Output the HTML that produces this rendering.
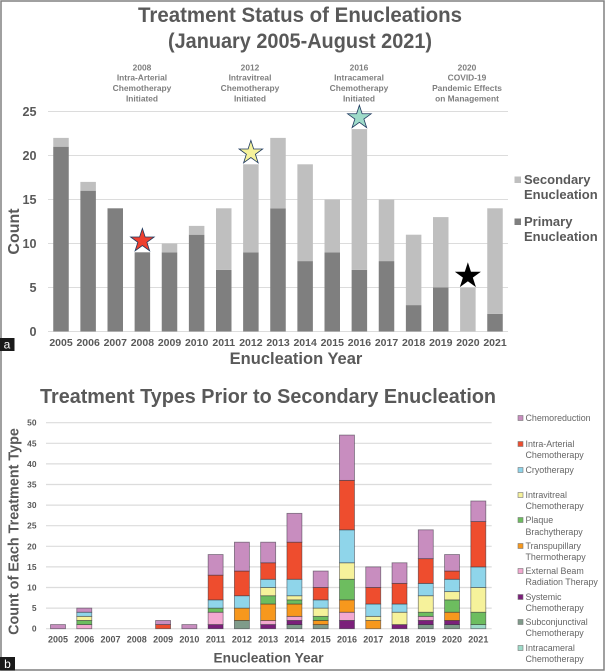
<!DOCTYPE html>
<html lang="en">
<head>
<meta charset="utf-8">
<title>Treatment Status of Enucleations</title>
<style>
html,body{margin:0;padding:0;background:#fff}
svg{display:block}
text{font-family:"Liberation Sans",sans-serif}
</style>
</head>
<body>
<svg id="fig" xmlns="http://www.w3.org/2000/svg" width="605" height="671" viewBox="0 0 605 671">
<rect x="1" y="1" width="603" height="669" fill="#fff" stroke="#808080" stroke-width="1.5"/>

<text x="300" y="22" text-anchor="middle" font-size="21.5" font-weight="700" fill="#595959" textLength="324" lengthAdjust="spacingAndGlyphs">Treatment Status of Enucleations</text>
<text x="300" y="48" text-anchor="middle" font-size="21.5" font-weight="700" fill="#595959" textLength="264" lengthAdjust="spacingAndGlyphs">(January 2005-August 2021)</text>

<g font-size="8.4" font-weight="700" fill="#7f7f7f" text-anchor="middle">
<text x="142" y="70.7">2008</text><text x="142" y="80.7">Intra-Arterial</text><text x="142" y="91">Chemotherapy</text><text x="142" y="101.3">Initiated</text>
</g>
<g font-size="8.4" font-weight="700" fill="#7f7f7f" text-anchor="middle">
<text x="250" y="70.7">2012</text><text x="250" y="80.7">Intravitreal</text><text x="250" y="91">Chemotherapy</text><text x="250" y="101.3">Initiated</text>
</g>
<g font-size="8.4" font-weight="700" fill="#7f7f7f" text-anchor="middle">
<text x="359" y="70.7">2016</text><text x="359" y="80.7">Intracameral</text><text x="359" y="91">Chemotherapy</text><text x="359" y="101.3">Initiated</text>
</g>
<g font-size="8.4" font-weight="700" fill="#7f7f7f" text-anchor="middle">
<text x="467" y="70.7">2020</text><text x="467" y="80.7">COVID-19</text><text x="467" y="91">Pandemic Effects</text><text x="467" y="101.3">on Management</text>
</g>

<g id="chart-a"></g>

<text transform="translate(19,231.5) rotate(-90)" text-anchor="middle" font-size="16" font-weight="700" fill="#595959">Count</text>
<text x="296" y="364" text-anchor="middle" font-size="16.5" font-weight="700" fill="#595959">Enucleation Year</text>

<g font-size="13" font-weight="700" fill="#595959">
<g>
<rect x="514.5" y="176.5" width="6.5" height="6.5" fill="#bfbfbf"/>
<text x="524" y="184">Secondary</text><text x="524" y="199">Enucleation</text>
</g>
<g>
<rect x="514.5" y="218.5" width="6.5" height="6.5" fill="#7f7f7f"/>
<text x="524" y="226">Primary</text><text x="524" y="241">Enucleation</text>
</g>
</g>

<g>
<rect x="0" y="338" width="14.5" height="13" fill="#1a1a1a"/>
<text x="7" y="348.5" text-anchor="middle" font-size="12" fill="#fff">a</text>
</g>

<text x="268" y="403" text-anchor="middle" font-size="20" font-weight="700" fill="#595959" textLength="456" lengthAdjust="spacingAndGlyphs">Treatment Types Prior to Secondary Enucleation</text>

<g id="chart-b"></g>

<text transform="translate(18.5,531.5) rotate(-90)" text-anchor="middle" font-size="14.4" font-weight="700" fill="#595959">Count of Each Treatment Type</text>
<text x="268.5" y="662.5" text-anchor="middle" font-size="13.7" font-weight="700" fill="#595959">Enucleation Year</text>

<g font-size="8.9" fill="#666">
<g><rect x="518" y="415.5" width="5" height="5" fill="#c88dbf" stroke="#777" stroke-width=".6"/><text x="525.5" y="421">Chemoreduction</text></g>
<g><rect x="518" y="441.5" width="5" height="5" fill="#ee4d2e" stroke="#777" stroke-width=".6"/><text x="525.5" y="447">Intra-Arterial</text><text x="525.5" y="458">Chemotherapy</text></g>
<g><rect x="518" y="467.5" width="5" height="5" fill="#8fd5ea" stroke="#777" stroke-width=".6"/><text x="525.5" y="473">Cryotherapy</text></g>
<g><rect x="518" y="492.5" width="5" height="5" fill="#f6f29b" stroke="#777" stroke-width=".6"/><text x="525.5" y="498">Intravitreal</text><text x="525.5" y="509">Chemotherapy</text></g>
<g><rect x="518" y="517.5" width="5" height="5" fill="#6dbd5f" stroke="#777" stroke-width=".6"/><text x="525.5" y="523">Plaque</text><text x="525.5" y="535">Brachytherapy</text></g>
<g><rect x="518" y="543.5" width="5" height="5" fill="#f7981d" stroke="#777" stroke-width=".6"/><text x="525.5" y="549">Transpupillary</text><text x="525.5" y="560">Thermotherapy</text></g>
<g><rect x="518" y="568.5" width="5" height="5" fill="#f3a8d0" stroke="#777" stroke-width=".6"/><text x="525.5" y="574">External Beam</text><text x="525.5" y="585">Radiation Therapy</text></g>
<g><rect x="518" y="594.5" width="5" height="5" fill="#7b1f7a" stroke="#777" stroke-width=".6"/><text x="525.5" y="600">Systemic</text><text x="525.5" y="611">Chemotherapy</text></g>
<g><rect x="518" y="619.5" width="5" height="5" fill="#7f9b8a" stroke="#777" stroke-width=".6"/><text x="525.5" y="625">Subconjunctival</text><text x="525.5" y="636">Chemotherapy</text></g>
<g><rect x="518" y="645.5" width="5" height="5" fill="#9edbc9" stroke="#777" stroke-width=".6"/><text x="525.5" y="651">Intracameral</text><text x="525.5" y="662">Chemotherapy</text></g>
</g>

<g>
<rect x="0" y="657" width="15" height="13.5" fill="#1a1a1a"/>
<text x="7.5" y="668" text-anchor="middle" font-size="12" fill="#fff">b</text>
</g>
</svg>

<script>
// Shared categories
const years = ['2005','2006','2007','2008','2009','2010','2011','2012','2013','2014','2015','2016','2017','2018','2019','2020','2021'];

// Chart A data
const primaryCounts   = [21,16,14,9,9,11,7,9,14,8,9,7,8,3,5,0,2];
const secondaryCounts = [1,1,0,0,1,1,7,10,8,11,6,16,7,8,8,5,12];
const ticksA = [0,5,10,15,20,25];
const starYears = ['2008','2012','2016','2020'];
const starNames = ['star-2008-red','star-2012-yellow','star-2016-green','star-2020-black'];

// Chart B data (bottom of stack to top)
const intracameral    = [0,0,0,0,0,0,0,0,0,0,0,0,0,0,0,0,1];
const subconjunctival = [0,0,0,0,0,0,0,2,0,1,1,0,0,0,1,1,0];
const systemic        = [0,0,0,0,0,0,1,0,1,1,0,2,0,1,1,1,0];
const externalBeam    = [0,1,0,0,0,0,3,0,1,1,0,2,0,0,1,0,0];
const transpupillary  = [0,0,0,0,0,0,0,3,4,3,1,3,2,0,0,2,0];
const plaque          = [0,1,0,0,0,0,1,0,2,1,1,5,0,0,1,3,3];
const intravitreal    = [0,1,0,0,0,0,0,0,2,1,2,4,1,3,4,2,6];
const cryotherapy     = [0,1,0,0,0,0,2,3,2,4,2,8,3,2,3,3,5];
const intraArterial   = [0,0,0,0,1,0,6,6,4,9,3,12,4,5,6,2,11];
const chemoreduction  = [1,1,0,0,1,1,5,7,5,7,4,11,5,5,7,4,5];
const ticksB = [0,5,10,15,20,25,30,35,40,45,50];

const SVGNS = 'http://www.w3.org/2000/svg';
function mk(parent, tag, attrs, txt) {
  const el = document.createElementNS(SVGNS, tag);
  for (const k in attrs) el.setAttribute(k, attrs[k]);
  if (txt !== undefined) el.textContent = txt;
  parent.appendChild(el);
  return el;
}

// Axis functions
const xA = i => 61 + i * 27.125;
const yA = v => 331.5 - v * 8.8;
const xB = i => 58 + i * 26.27;
const yB = v => 628.7 - v * 4.12;

// ---- Chart A ----
const gA = document.getElementById('chart-a');
ticksA.forEach(t => {
  const line = mk(gA, 'line', {x1:48, x2:508, y1:yA(t), y2:yA(t), stroke:'#dcdcdc', 'stroke-width':1});
  
  
  const lab = mk(gA, 'text', {x:36.5, y:yA(t)+4.5, 'text-anchor':'end', 'font-size':12.6, 'font-weight':700, fill:'#595959'}, String(t));
  
  
});
const BAR_A = 15.5;
years.forEach((y, i) => {
  const p = primaryCounts[i], s = secondaryCounts[i];
  if (p > 0) {
    const r = mk(gA, 'rect', {x:xA(i)-BAR_A/2, y:yA(p), width:BAR_A, height:yA(0)-yA(p), fill:'#7f7f7f'});
    
    
  }
  if (s > 0) {
    const r = mk(gA, 'rect', {x:xA(i)-BAR_A/2, y:yA(p+s), width:BAR_A, height:yA(p)-yA(p+s), fill:'#bfbfbf'});
    
    
  }
  const lab = mk(gA, 'text', {x:xA(i), y:346, 'text-anchor':'middle', 'font-size':10.5, 'font-weight':700, fill:'#595959'}, y);
  
  
});

// Stars sit just above the total of their year
const starFills = ['#ee4030','#f6f29b','#9edbc9','#000000'];
const starStrokes = ['#1f3a5f','#1f3a5f','#1f3a5f','#000000'];
function starPoints(cx, cy, R) {
  const pts = [];
  for (let k = 0; k < 10; k++) {
    const r = k % 2 ? R * 0.382 : R;
    const a = -Math.PI / 2 + k * Math.PI / 5;
    pts.push((cx + r * Math.cos(a)).toFixed(2) + ',' + (cy + r * Math.sin(a)).toFixed(2));
  }
  return pts.join(' ');
}
starYears.forEach((y, n) => {
  const i = years.indexOf(y);
  const top = yA(primaryCounts[i] + secondaryCounts[i]);
  const s = mk(gA, 'polygon', {points:starPoints(xA(i), top - 11.5, 12.4), fill:starFills[n], stroke:starStrokes[n], 'stroke-width':0.8, 'stroke-linejoin':'miter'});
  
  
});

// ---- Chart B ----
const gB = document.getElementById('chart-b');
const stackValues = [intracameral, subconjunctival, systemic, externalBeam, transpupillary, plaque, intravitreal, cryotherapy, intraArterial, chemoreduction];
const stackNames = ['intracameral','subconjunctival','systemic','external-beam','transpupillary','plaque','intravitreal','cryotherapy','intra-arterial','chemoreduction'];
const stackFills = ['#9edbc9','#7f9b8a','#7b1f7a','#f3a8d0','#f7981d','#6dbd5f','#f6f29b','#8fd5ea','#ee4d2e','#c88dbf'];
ticksB.forEach(t => {
  const line = mk(gB, 'line', {x1:46, x2:491.7, y1:yB(t), y2:yB(t), stroke:'#dcdcdc', 'stroke-width':1.2});
  
  
  const lab = mk(gB, 'text', {x:36.5, y:yB(t)+3, 'text-anchor':'end', 'font-size':8.4, 'font-weight':700, fill:'#595959'}, String(t));
  
  
});
const BAR_B = 15;
years.forEach((y, i) => {
  let base = 0;
  stackValues.forEach((series, s) => {
    const v = series[i];
    if (v > 0) {
      const r = mk(gB, 'rect', {x:xB(i)-BAR_B/2, y:yB(base+v), width:BAR_B, height:yB(base)-yB(base+v), fill:stackFills[s], stroke:'rgba(40,40,50,.55)', 'stroke-width':0.8});
      
      
    }
    base += v;
  });
  const lab = mk(gB, 'text', {x:xB(i), y:642.5, 'text-anchor':'middle', 'font-size':9, 'font-weight':700, fill:'#595959'}, y);
  
  
});
</script>
</body>
</html>
